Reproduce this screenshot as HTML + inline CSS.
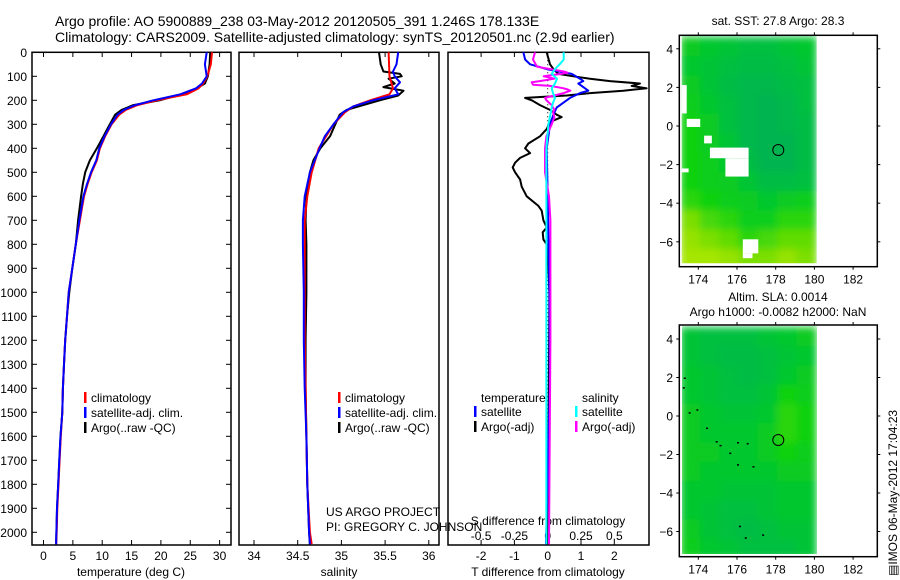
<!DOCTYPE html>
<html><head><meta charset="utf-8">
<style>
html,body{margin:0;padding:0;background:#fff;}
svg{display:block;font-family:"Liberation Sans",sans-serif;}
text{fill:#000;}
</style></head>
<body>
<svg id="fig" width="900" height="580" viewBox="0 0 900 580" xmlns="http://www.w3.org/2000/svg">
<defs>
<filter id="blur" x="-5%" y="-5%" width="110%" height="110%"><feGaussianBlur stdDeviation="4" edgeMode="duplicate"/></filter>
<clipPath id="cp1"><rect x="32" y="52" width="199" height="493"/></clipPath>
<clipPath id="cp2"><rect x="239" y="52" width="200" height="493"/></clipPath>
<clipPath id="cp3"><rect x="448" y="52" width="201" height="493"/></clipPath>
<clipPath id="cpm1"><rect x="681.7" y="36" width="135" height="227.3"/></clipPath>
<clipPath id="cpm2"><rect x="682" y="326" width="135" height="228"/></clipPath>
</defs>
</svg>
<script>
// ---- profile data ----
const tempDepth=[0,50,100,130,150,175,200,220,240,260,300,350,400,450,500,550,600,700,800,900,1000,1100,1200,1300,1400,1500,1600,1700,1800,1900,2000,2050];
const argoT=[28.4,28.3,28.0,27.5,26.1,23.5,19.8,15.3,13.3,12.2,11.3,10.2,9.1,7.9,7.1,6.7,6.4,5.9,5.5,4.9,4.4,4.0,3.7,3.5,3.3,3.2,2.9,2.7,2.5,2.3,2.2,2.15];
const climT=[28.7,28.5,27.9,27.2,26.4,24.4,19.3,16.0,14.0,12.9,11.6,10.5,9.6,9.1,8.2,7.5,6.9,6.2,5.5,4.9,4.3,4.0,3.7,3.5,3.3,3.2,2.95,2.75,2.55,2.35,2.25,2.15];
const satT=[27.8,27.5,27.8,27.0,26.0,23.3,18.7,15.6,13.7,12.6,11.5,10.4,9.5,9.0,8.1,7.4,6.8,6.1,5.5,4.9,4.3,4.0,3.7,3.5,3.3,3.2,2.9,2.7,2.5,2.3,2.2,2.15];

const argoSDepth=[0,50,80,90,100,110,130,145,160,180,200,220,240,260,300,350,400,450,500,600,700,800,900,1000,1200,1400,1600,1800,2000,2050];
const argoS=[35.43,35.45,35.48,35.67,35.69,35.54,35.61,35.48,35.71,35.65,35.44,35.25,35.06,34.98,34.93,34.87,34.76,34.68,34.64,34.60,34.59,34.60,34.60,34.60,34.59,34.59,34.60,34.61,34.63,34.64];
const climSDepth=[0,100,150,175,200,225,250,300,400,500,600,700,800,1000,1200,1400,1600,1800,2000,2050];
const climS=[35.54,35.55,35.59,35.55,35.33,35.14,35.04,34.91,34.74,34.66,34.61,34.58,34.58,34.58,34.58,34.59,34.60,34.61,34.64,34.66];
const satSDepth=[0,50,80,100,125,150,175,200,225,250,300,350,400,500,600,700,800,1000,1200,1400,1600,1800,2000,2050];
const satS=[35.65,35.63,35.59,35.61,35.67,35.61,35.65,35.36,35.14,35.02,34.91,34.81,34.75,34.64,34.58,34.56,34.56,34.57,34.57,34.58,34.60,34.61,34.63,34.64];

const argoDTDepth=[0,50,70,90,100,110,120,130,140,150,160,170,180,190,200,220,240,260,270,290,320,350,380,400,420,440,460,480,500,530,560,600,640,660,700,730,750,780,800,900,1000,1500,2050];
const argoDT=[-0.03,0.07,0.17,0.32,0.77,1.27,1.87,2.77,2.52,2.97,2.27,1.27,0.57,-0.68,-0.48,-0.23,0.07,0.27,0.42,0.07,-0.03,-0.23,-0.58,-0.68,-0.53,-0.83,-0.98,-1.05,-0.98,-0.83,-0.78,-0.63,-0.28,-0.18,-0.13,-0.03,-0.15,-0.13,-0.03,0.02,0.05,0.03,0.0];
const satDTDepth=[0,30,50,70,90,110,120,130,150,160,170,190,210,230,260,300,350,400,600,1000,1400,2050];
const satDT=[-0.73,-0.68,-0.53,-0.03,0.72,0.97,1.07,0.92,1.12,1.22,0.97,0.67,0.47,0.27,0.17,0.07,0.02,-0.03,0.0,0.05,0.06,-0.05];
const argoDSDepth=[0,30,60,70,80,85,90,100,110,120,125,135,140,150,155,160,170,180,190,200,220,240,250,270,300,350,400,500,600,700,800,1200,2050];
const argoDS=[-0.095,-0.11,-0.08,0.02,0.12,0.15,0.1,-0.03,0.05,-0.06,-0.12,-0.11,0.02,0.12,0.15,0.17,0.12,0.05,-0.02,-0.01,0.03,0.05,0.04,0.05,0.03,-0.01,-0.02,-0.02,0.01,0.02,0.02,0.02,0.01];
const satDSDepth=[0,30,50,70,90,110,130,150,170,190,210,230,260,300,400,500,700,1000,1500,2050];
const satDS=[0.12,0.12,0.09,0.055,0.03,0.07,0.055,0.03,0.04,0.055,0.04,0.03,0.02,0.005,-0.01,-0.01,-0.01,-0.01,-0.01,-0.01];

// ---- tick labels ----
const depthTicks=[0,100,200,300,400,500,600,700,800,900,1000,1100,1200,1300,1400,1500,1600,1700,1800,1900,2000];
const tempTicks=[0,5,10,15,20,25,30];
const salTicks=[34,34.5,35,35.5,36];
const dTTicks=[-2,-1,0,1,2];
const dSTicks=[-0.5,-0.25,0,0.25,0.5];
const lonTicks=[174,176,178,180,182];
const latTicks=[4,2,0,-2,-4,-6];

// ---- map data (7 lon cols 173.1..180.1 x 12 lat rows 4.6..-7.4) ----
const sstGrid=[
[0.45,0.4,0.35,0.3,0.3,0.35,0.4],
[0.4,0.35,0.3,0.25,0.25,0.3,0.35],
[0.45,0.35,0.25,0.2,0.2,0.25,0.3],
[0.5,0.4,0.3,0.2,0.15,0.2,0.3],
[0.55,0.45,0.3,0.2,0.15,0.2,0.25],
[0.55,0.45,0.35,0.2,0.15,0.15,0.25],
[0.55,0.5,0.4,0.25,0.15,0.15,0.25],
[0.55,0.5,0.45,0.35,0.25,0.25,0.3],
[0.6,0.55,0.5,0.45,0.4,0.45,0.5],
[0.75,0.65,0.6,0.5,0.5,0.6,0.6],
[0.8,0.75,0.7,0.6,0.65,0.7,0.7],
[0.85,0.85,0.8,0.75,0.75,0.8,0.75]];
const slaGrid=[
[0.35,0.3,0.3,0.3,0.35,0.4,0.45],
[0.35,0.3,0.25,0.25,0.3,0.35,0.4],
[0.4,0.35,0.3,0.25,0.3,0.4,0.45],
[0.4,0.35,0.3,0.3,0.35,0.55,0.5],
[0.45,0.4,0.35,0.35,0.4,0.6,0.55],
[0.45,0.4,0.4,0.4,0.45,0.6,0.55],
[0.45,0.45,0.4,0.4,0.45,0.55,0.5],
[0.45,0.4,0.4,0.4,0.4,0.45,0.45],
[0.4,0.4,0.35,0.35,0.35,0.4,0.4],
[0.4,0.35,0.3,0.3,0.35,0.4,0.4],
[0.45,0.35,0.3,0.25,0.3,0.35,0.35],
[0.5,0.4,0.35,0.3,0.3,0.3,0.35]];
const sstMask=[[173.1,2.12,173.4,0.65],[173.4,0.37,174.1,-0.05],[174.3,-0.5,174.7,-0.9],[174.6,-1.12,176.6,-1.67],[175.4,-1.67,176.6,-2.62],[173.1,-2.2,173.5,-2.4],[176.3,-5.87,177.1,-6.6],[176.3,-6.6,176.8,-6.85]];
const coastPts=[[173.25,2.0],[173.2,1.5],[173.5,0.2],[173.9,0.35],[174.4,-0.6],[174.9,-1.3],[175.1,-1.5],[176.0,-1.35],[176.5,-1.4],[175.6,-1.9],[176.0,-2.5],[176.8,-2.6],[176.1,-5.7],[176.4,-6.3],[177.3,-6.15]];
const argoLon=178.133, argoLat=-1.246;

const svg=document.getElementById('fig');
const NS='http://www.w3.org/2000/svg';
function mk(tag,attrs,parent){const e=document.createElementNS(NS,tag);for(const k in attrs)e.setAttribute(k,attrs[k]);(parent||svg).appendChild(e);return e;}
function txt(s,x,y,size,anchor,parent){const t=mk('text',{x:x,y:y,'font-size':size,'text-anchor':anchor||'start'},parent);t.textContent=s;return t;}

// axis functions
const yD=d=>52.3+0.24*d;
const xT=t=>43.5+5.87*t;
const xS=s=>254+87.4*(s-34);
const xdT=v=>547.7+33.3*v;
const xdS=v=>547.7+133.2*v;
const lonX=lon=>698.3+19.35*(lon-174);
const latY1=lat=>126-19.3*lat;
const latY2=lat=>416-19.25*lat;

function line(xs,ys,fx,color,w,clip,name){
  const pts=xs.map((v,i)=>fx(v).toFixed(1)+','+yD(ys[i]).toFixed(1)).join(' ');
  const p=mk('polyline',{points:pts,fill:'none',stroke:color,'stroke-width':w,'stroke-linejoin':'round','clip-path':'url(#'+clip+')'});
  
  
  return p;
}

// titles
let t1=txt('Argo profile: AO 5900889_238 03-May-2012 20120505_391 1.246S 178.133E',55,26,14);


let t2=txt('Climatology: CARS2009. Satellite-adjusted climatology: synTS_20120501.nc (2.9d earlier)',55,42,14);



// panel frames
const panels=[[32,231,'temperature-panel'],[239,439,'salinity-panel'],[448,649,'difference-panel']];
panels.forEach(p=>{
  const r=mk('rect',{x:p[0],y:52.3,width:p[1]-p[0],height:492.7,fill:'none',stroke:'#000','stroke-width':1.5});
  
  
});

// depth ticks
depthTicks.forEach(d=>{
  const y=yD(d);
  mk('line',{x1:32,x2:37,y1:y,y2:y,stroke:'#000'});
  mk('line',{x1:226,x2:231,y1:y,y2:y,stroke:'#000'});
  const l=txt(String(d),27,y+4.5,12,'end');
  
  
});
function xticks(arr,fx,labelY,fmt){
  arr.forEach(v=>{
    const x=fx(v);
    mk('line',{x1:x,x2:x,y1:52.3,y2:57,stroke:'#000'});
    mk('line',{x1:x,x2:x,y1:540,y2:545,stroke:'#000'});
    const l=txt(fmt?fmt(v):String(v),x,labelY,12,'middle');
    
    
  });
}
xticks(tempTicks,xT,560);
xticks(salTicks,xS,560);
xticks(dTTicks,xdT,560);
dSTicks.forEach(v=>{
  const l=txt(String(v),xdS(v),540,12,'middle');
  
  
});
let a1=txt('temperature (deg C)',131,576,12,'middle');


let a2=txt('salinity',339,576,12,'middle');


let a3=txt('T difference from climatology',548,576,12,'middle');


let a4=txt('S difference from climatology',548,525,12,'middle');



// zero line
let z=mk('line',{x1:xdT(0),x2:xdT(0),y1:yD(0),y2:yD(2050),stroke:'#000','stroke-width':1,'stroke-dasharray':'1,3'});



// series
line(argoT,tempDepth,xT,'#000',2,'cp1','argo-temperature-line');
line(climT,tempDepth,xT,'#f00',2,'cp1','climatology-temperature-line');
line(satT,tempDepth,xT,'#00f',2,'cp1','satellite-temperature-line');
line(argoS,argoSDepth,xS,'#000',2,'cp2','argo-salinity-line');
line(climS,climSDepth,xS,'#f00',2,'cp2','climatology-salinity-line');
line(satS,satSDepth,xS,'#00f',2,'cp2','satellite-salinity-line');
line(argoDT,argoDTDepth,xdT,'#000',2,'cp3','argo-t-diff-line');
line(satDT,satDTDepth,xdT,'#00f',2,'cp3','satellite-t-diff-line');
line(argoDS,argoDSDepth,xdS,'#f0f',2,'cp3','argo-s-diff-line');
line(satDS,satDSDepth,xdS,'#0ff',2,'cp3','satellite-s-diff-line');

// legends
function legItem(x,y,color,label,name){
  const g=mk('g',{});
  
  
  if(color) mk('rect',{x:x-7,y:y-10,width:2.5,height:11,fill:color},g);
  txt(label,x,y,12,'start',g);
}
[[91,'climatology-legend'],[345,'salinity-climatology-legend']].forEach((c,i)=>{
  legItem(c[0],402,'#f00','climatology',i?'legend-climatology-salinity':'legend-climatology');
  legItem(c[0],417,'#00f','satellite-adj. clim.',i?'legend-satellite-salinity':'legend-satellite');
  legItem(c[0],432,'#000','Argo(..raw -QC)',i?'legend-argo-salinity':'legend-argo');
});
legItem(481,402,null,'temperature','legend-temperature-header');
legItem(481,416,'#00f','satellite','legend-t-satellite');
legItem(481,431,'#000','Argo(-adj)','legend-t-argo');
legItem(582,402,null,'salinity','legend-salinity-header');
legItem(582,416,'#0ff','satellite','legend-s-satellite');
legItem(582,431,'#f0f','Argo(-adj)','legend-s-argo');

let us=txt('US ARGO PROJECT',326,516,12);


let pi=txt('PI: GREGORY C. JOHNSON',326,531,12);



// ---- maps ----
function cmap(v){
  const stops=[[0,[0,168,96]],[0.3,[0,192,64]],[0.55,[16,210,16]],[0.8,[150,226,0]],[1,[210,240,0]]];
  for(let i=1;i<stops.length;i++){
    if(v<=stops[i][0]){const a=stops[i-1],b=stops[i];const f=(v-a[0])/(b[0]-a[0]);
      const c=a[1].map((q,k)=>Math.round(q+(b[1][k]-q)*f));return 'rgb('+c.join(',')+')';}
  }
  return 'rgb(210,240,0)';
}
function drawMap(grid,latY,frameTop,frameBot,clip,name,title1,title2){
  const frame=mk('g',{});
  
  
  const cg=mk('g',{'clip-path':'url(#'+clip+')'},frame);
  const hg=mk('g',{filter:'url(#blur)'},cg);
  grid.forEach((row,j)=>row.forEach((v,i)=>{
    const x0=lonX(173.1+i),x1=lonX(174.1+i),y0=latY(4.6-j),y1=latY(3.6-j);
    const r=mk('rect',{x:x0-0.5,y:y0-0.5,width:x1-x0+1,height:y1-y0+1,fill:cmap(v)},hg);
    
    
  }));
  mk('rect',{x:679.3,y:frameTop,width:198,height:frameBot-frameTop,fill:'none',stroke:'#000','stroke-width':1.5},frame);
  lonTicks.forEach(l=>{
    const x=lonX(l);
    mk('line',{x1:x,x2:x,y1:frameTop,y2:frameTop-3,stroke:'#000'},frame);
    mk('line',{x1:x,x2:x,y1:frameBot,y2:frameBot+3,stroke:'#000'},frame);
    const t=txt(String(l),x,frameBot+17,12,'middle',frame);
    
    
  });
  latTicks.forEach(l=>{
    const y=latY(l);
    mk('line',{x1:679.3,x2:676.3,y1:y,y2:y,stroke:'#000'},frame);
    mk('line',{x1:877.3,x2:880.3,y1:y,y2:y,stroke:'#000'},frame);
    const t=txt(String(l).replace('-','\u2212'),673,y+4.5,12,'end',frame);
    
    
  });
  const c=mk('circle',{cx:lonX(argoLon),cy:latY(argoLat),r:5.5,fill:'none',stroke:'#000','stroke-width':1},frame);
  
  
  return {frame,cg};
}
const m1=drawMap(sstGrid,latY1,35.3,266.7,'cpm1','sst-map');
sstMask.forEach(m=>{
  const r=mk('rect',{x:lonX(m[0]),y:latY1(m[1]),width:lonX(m[2])-lonX(m[0]),height:latY1(m[3])-latY1(m[1]),fill:'#fff'},m1.cg);
  
  
});
let st=txt('sat. SST: 27.8 Argo: 28.3',778,25,12,'middle');



const m2=drawMap(slaGrid,latY2,325,556.7,'cpm2','sla-map');
coastPts.forEach(p=>{
  const r=mk('rect',{x:lonX(p[0]),y:latY2(p[1]),width:2,height:1.5,fill:'#000'},m2.cg);
  
  
});
let s1=txt('Altim. SLA: 0.0014',778,301,12,'middle');


let s2=txt('Argo h1000: -0.0082 h2000: NaN',778,316,12,'middle');



let ts=txt('\u25A4IMOS 06-May-2012 17:04:23',0,0,12,'start');
ts.setAttribute('transform','translate(897,576) rotate(-90)');


</script>
</body></html>
